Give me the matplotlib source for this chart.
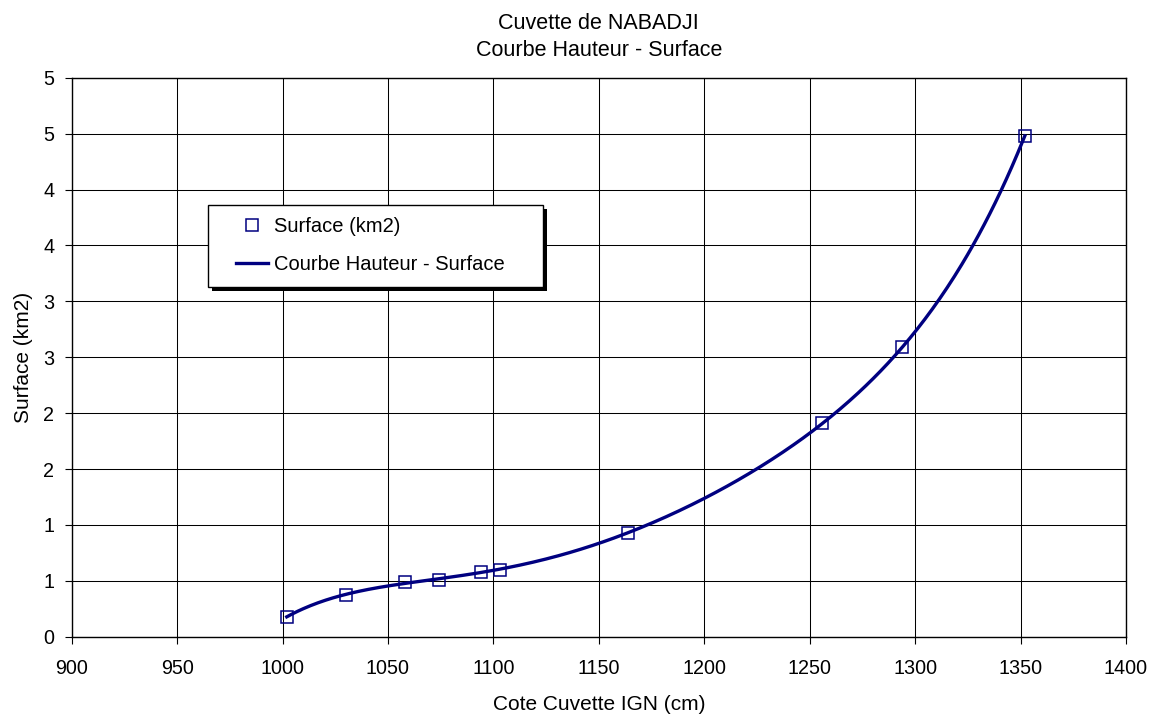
import numpy as np
import matplotlib.pyplot as plt
from matplotlib.patches import Rectangle
from matplotlib.lines import Line2D
from matplotlib.ticker import MultipleLocator, FuncFormatter

# donnees
cote_cm = [1002, 1030, 1058, 1074, 1094, 1103, 1164, 1256, 1294, 1352]
surface_km2 = [0.18, 0.37, 0.49, 0.51, 0.58, 0.60, 0.93, 1.91, 2.59, 4.48]

titre = "Cuvette de NABADJI"
sous_titre = "Courbe Hauteur - Surface"
xlabel = "Cote Cuvette IGN (cm)"
ylabel = "Surface (km2)"
nom_points = "Surface (km2)"
nom_courbe = "Courbe Hauteur - Surface"

NAVY = "#000080"

plt.rcParams['font.family'] = ['Liberation Sans', 'DejaVu Sans']

fig = plt.figure(figsize=(11.6, 7.2), dpi=100)
ax = fig.add_axes((0.0618, 0.1157, 0.9089, 0.7763))

# courbe de tendance (polynome) ajustee sur les points
poly = np.polynomial.Polynomial.fit(cote_cm, surface_km2, 5)
xc = np.linspace(min(cote_cm), max(cote_cm), 400)
ax.plot(xc, poly(xc), color=NAVY, lw=2.4, zorder=3)
ax.plot(cote_cm, surface_km2, ls='none', marker='s', ms=8.5, mfc='none',
        mec=NAVY, mew=1.1, zorder=4)

ax.set_xlim(900, 1400)
ax.set_ylim(0, 5)
ax.xaxis.set_major_locator(MultipleLocator(50))
ax.yaxis.set_major_locator(MultipleLocator(0.5))
# format entier facon Excel (arrondi)
ax.yaxis.set_major_formatter(FuncFormatter(lambda v, p: '%d' % np.floor(v + 0.5)))
ax.grid(True, color='k', lw=0.75)
ax.set_axisbelow(True)
for s in ax.spines.values():
    s.set_color('k')
    s.set_linewidth(1.0)
ax.tick_params(axis='both', direction='out', length=5, width=0.8, color='k',
               labelsize=14.2)
ax.tick_params(axis='x', pad=11)
ax.tick_params(axis='y', pad=7.5)

ax.set_xlabel(xlabel, fontsize=15)
ax.xaxis.set_label_coords(0.5, -0.105)
ax.set_ylabel(ylabel, fontsize=15)
ax.yaxis.set_label_coords(-0.037, 0.5)

cx = 0.5162
fig.text(cx, 1 - 23.5 / 720, titre, ha='center', va='center', fontsize=15.5)
fig.text(cx, 1 - 50.5 / 720, sous_titre, ha='center', va='center', fontsize=15.5)

# legende avec cadre et ombre noire
lx, ly, lw_, lh = 208 / 1160, 1 - 287 / 720, 335 / 1160, 82 / 720
ombre = Rectangle((lx + 4 / 1160, ly - 4 / 720), lw_, lh,
                  transform=fig.transFigure, fc='k', ec='k', lw=0, zorder=4.9)
cadre = Rectangle((lx, ly), lw_, lh,
                  transform=fig.transFigure, fc='white', ec='k', lw=1, zorder=5)
fig.add_artist(ombre)
fig.add_artist(cadre)
h_pts = Line2D([], [], ls='none', marker='s', ms=8.5, mfc='none', mec=NAVY, mew=1.1)
h_crb = Line2D([], [], color=NAVY, lw=2.4)
leg = fig.legend([h_pts, h_crb], [nom_points, nom_courbe], loc='upper left',
                 bbox_to_anchor=(236 / 1160, 1 - 217 / 720), frameon=False,
                 fontsize=14.5, handlelength=1.6, handletextpad=0.3,
                 labelspacing=0.95, borderpad=0, borderaxespad=0)
leg.set_zorder(6)

fig.savefig('out.png', dpi=100)
